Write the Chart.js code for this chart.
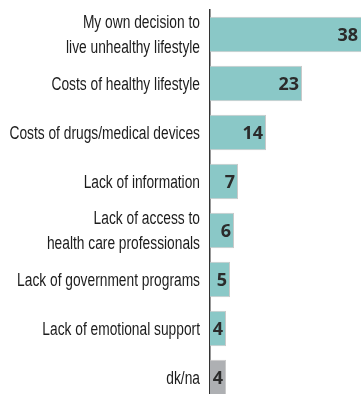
<!DOCTYPE html>
<html>
<head>
<meta charset="utf-8">
<script src="https://cdn.jsdelivr.net/npm/chart.js@4/dist/chart.umd.min.js"></script>
<style>
    html, body {
        margin: 0;
        padding: 0;
        background: #ffffff;
        overflow: hidden;
    }
    #chartBox {
        position: relative;
        width: 361px;
        height: 404px;
    }
</style>
</head>
<body>
<div id="chartBox">
    <canvas id="reasonsChart"></canvas>
</div>
<script>
let categories = [
    ['My own decision to', 'live unhealthy lifestyle'],
    'Costs of healthy lifestyle',
    'Costs of drugs/medical devices',
    'Lack of information',
    ['Lack of access to', 'health care professionals'],
    'Lack of government programs',
    'Lack of emotional support',
    'dk/na'
];
let values = [38, 23, 14, 7, 6, 5, 4, 4];
let isNoAnswer = [false, false, false, false, false, false, false, true];

const TEAL = '#8ac8c7';
const GREY = '#aeb0b3';

// Category names, drawn narrow (condensed look) and right aligned against the axis
const categoryLabels = {
    id: 'categoryLabels',
    afterDraw(chart) {
        const ctx = chart.ctx;
        const yScale = chart.scales.y;
        const right = yScale.right - 10;
        ctx.save();
        ctx.font = '18px "Liberation Sans Narrow", sans-serif';
        ctx.fillStyle = '#1c1c1c';
        ctx.textAlign = 'right';
        ctx.textBaseline = 'alphabetic';
        categories.forEach((label, i) => {
            let lines = Array.isArray(label) ? label : [label];
            let y = yScale.getPixelForTick(i);
            lines.forEach((line, j) => {
                // baseline sits so the caps of the block are centred on the bar
                let ly = y + 6 + (j - (lines.length - 1) / 2) * 25;
                ctx.save();
                ctx.translate(right, ly);
                ctx.scale(0.765, 1);
                ctx.fillText(line, 0, 0);
                ctx.restore();
            });
        });
        ctx.restore();
    }
};

// Number written just inside the end of each bar
const valueLabels = {
    id: 'valueLabels',
    afterDatasetsDraw(chart) {
        const ctx = chart.ctx;
        const meta = chart.getDatasetMeta(0);
        const edge = chart.chartArea.right;
        ctx.save();
        ctx.font = 'bold 18px "Open Sans", sans-serif';
        ctx.fillStyle = '#2b2b2b';
        ctx.textAlign = 'right';
        ctx.textBaseline = 'alphabetic';
        meta.data.forEach((bar, i) => {
            ctx.fillText(String(values[i]), Math.min(bar.x, edge) - 3, bar.y + 6);
        });
        ctx.restore();
    }
};

function buildChart() {
    const ctx = document.getElementById('reasonsChart').getContext('2d');

    new Chart(ctx, {
        type: 'bar',
        data: {
            labels: categories,
            datasets: [{
                data: values,
                backgroundColor: isNoAnswer.map(na => na ? GREY : TEAL),
                borderColor: '#c9c9c9',
                borderWidth: 1,
                borderSkipped: 'start',
                categoryPercentage: 0.72,
                barPercentage: 1
            }]
        },
        options: {
            indexAxis: 'y',
            responsive: true,
            maintainAspectRatio: false,
            animation: false,
            layout: {
                padding: { top: 10, bottom: 2, left: 0, right: 0 }
            },
            plugins: {
                legend: { display: false },
                tooltip: { enabled: false }
            },
            scales: {
                x: {
                    display: false,
                    min: 0,
                    max: 37.75
                },
                y: {
                    afterFit: scale => {
                        scale.width = 210;
                        scale.paddingTop = 0;
                        scale.paddingBottom = 0;
                    },
                    grid: { display: false, drawTicks: false },
                    border: { display: true, color: '#333333', width: 1.5 },
                    ticks: { display: false, autoSkip: false }
                }
            }
        },
        plugins: [valueLabels, categoryLabels]
    });
}

buildChart();
</script>
</body>
</html>
